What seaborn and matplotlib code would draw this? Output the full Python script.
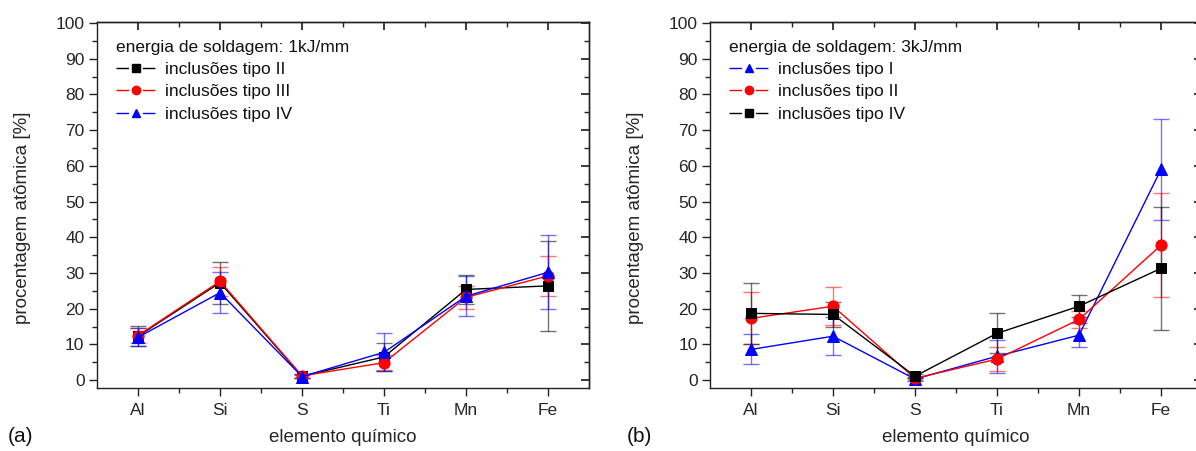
import matplotlib
matplotlib.use("Agg")
import matplotlib.pyplot as plt
from matplotlib.ticker import MultipleLocator, FixedLocator
from matplotlib.lines import Line2D
import numpy as np
import pandas as pd
import seaborn as sns

elementos = ["Al", "Si", "S", "Ti", "Mn", "Fe"]

# (a) energia de soldagem 1kJ/mm
a_tipo2 = [12.3, 27.3, 1.1, 6.5, 25.4, 26.4]
a_tipo2_err = [2.8, 5.9, 0.5, 4.0, 4.0, 12.5]
a_tipo3 = [12.5, 27.7, 1.2, 4.9, 23.2, 29.2]
a_tipo3_err = [2.0, 4.0, 0.5, 2.1, 3.3, 5.5]
a_tipo4 = [12.0, 24.5, 1.0, 7.8, 23.5, 30.2]
a_tipo4_err = [2.5, 5.8, 0.5, 5.3, 5.6, 10.4]

# (b) energia de soldagem 3kJ/mm
b_tipo1 = [8.6, 12.3, 0.3, 6.7, 12.6, 59.0]
b_tipo1_err = [4.2, 5.3, 0.4, 4.6, 3.4, 14.1]
b_tipo2 = [17.3, 20.7, 0.5, 5.9, 17.0, 37.8]
b_tipo2_err = [7.3, 5.3, 0.4, 3.4, 2.5, 14.5]
b_tipo4 = [18.7, 18.4, 1.1, 13.1, 20.7, 31.3]
b_tipo4_err = [8.6, 3.5, 0.5, 5.6, 3.1, 17.2]

FONT = ["Liberation Sans", "DejaVu Sans"]
EIXO = "#222222"

sns.set_theme(style="white")
plt.rcParams["font.family"] = FONT
plt.rcParams["axes.edgecolor"] = EIXO
plt.rcParams["axes.linewidth"] = 1.0
plt.rcParams["text.color"] = "#111111"


def painel(ax, titulo, series):
    pos = np.arange(len(elementos))
    handles = []
    for nome, vals, errs, cor, mk, ms in series:
        df = pd.DataFrame({"x": pos, "y": vals})
        ax.errorbar(df["x"], df["y"], yerr=errs, fmt="none", ecolor=cor,
                    elinewidth=1.0, capsize=5.5, capthick=1.0, alpha=0.55,
                    zorder=2)
        sns.lineplot(data=df, x="x", y="y", ax=ax, color=cor, marker=mk,
                     markersize=ms, markeredgecolor=cor, linewidth=1.0,
                     legend=False, zorder=3)
        handles.append(Line2D([], [], color=cor, linewidth=1.0,
                              linestyle=(0, (9, 10)), marker=mk,
                              markersize=ms * 0.75, markeredgecolor=cor,
                              label=nome))
    ax.set_xlim(-0.5, 5.5)
    ax.set_ylim(-2.2, 100.3)
    ax.xaxis.set_major_locator(FixedLocator(pos))
    ax.set_xticklabels(elementos)
    ax.xaxis.set_minor_locator(FixedLocator(pos[:-1] + 0.5))
    ax.yaxis.set_major_locator(MultipleLocator(10))
    ax.yaxis.set_minor_locator(MultipleLocator(5))
    ax.tick_params(which="both", direction="out", left=True, bottom=True,
                   color=EIXO, labelsize=12.5, pad=3)
    ax.tick_params(which="major", length=6, width=1)
    ax.tick_params(which="minor", length=3.5, width=1)
    ax.tick_params(axis="x", which="major", pad=5)
    ax.set_xlabel("elemento químico", fontsize=13.5)
    ax.set_ylabel("procentagem atômica [%]", fontsize=13.5)
    ax.xaxis.set_label_coords(0.5, -0.112)
    ax.yaxis.set_label_coords(-0.135, 0.465)
    # ticks espelhados (para dentro) no topo e à direita
    top = ax.secondary_xaxis("top")
    top.xaxis.set_major_locator(FixedLocator(pos))
    top.xaxis.set_minor_locator(FixedLocator(pos[:-1] + 0.5))
    top.tick_params(which="both", direction="in", labeltop=False, color=EIXO)
    top.tick_params(which="major", length=6)
    top.tick_params(which="minor", length=3.5)
    right = ax.secondary_yaxis("right")
    right.yaxis.set_major_locator(MultipleLocator(10))
    right.yaxis.set_minor_locator(MultipleLocator(5))
    right.tick_params(which="both", direction="in", labelright=False, color=EIXO)
    right.tick_params(which="major", length=6)
    right.tick_params(which="minor", length=3.5)
    ax.legend(handles=handles, title=titulo, loc="upper left", frameon=False,
              fontsize=12.5, title_fontsize=12.5, alignment="left",
              handlelength=2.3, handletextpad=0.55, labelspacing=0.42,
              borderaxespad=0.4, bbox_to_anchor=(0.01, 0.99))


fig = plt.figure(figsize=(11.96, 4.51), dpi=100)
ax1 = fig.add_axes([97 / 1196, 63 / 451, 492 / 1196, 366 / 451])
ax2 = fig.add_axes([710 / 1196, 63 / 451, 492 / 1196, 366 / 451])

painel(ax1, "energia de soldagem: 1kJ/mm", [
    ("inclusões tipo II", a_tipo2, a_tipo2_err, "black", "s", 7),
    ("inclusões tipo III", a_tipo3, a_tipo3_err, "#ff0000", "o", 8),
    ("inclusões tipo IV", a_tipo4, a_tipo4_err, "#0000ff", "^", 8),
])
painel(ax2, "energia de soldagem: 3kJ/mm", [
    ("inclusões tipo I", b_tipo1, b_tipo1_err, "#0000ff", "^", 8),
    ("inclusões tipo II", b_tipo2, b_tipo2_err, "#ff0000", "o", 8),
    ("inclusões tipo IV", b_tipo4, b_tipo4_err, "black", "s", 7),
])

fig.text(8 / 1196, 1 - 437 / 451, "(a)", fontsize=15, va="center", ha="left")
fig.text(627 / 1196, 1 - 437 / 451, "(b)", fontsize=15, va="center", ha="left")

fig.savefig("out.png", dpi=100)
